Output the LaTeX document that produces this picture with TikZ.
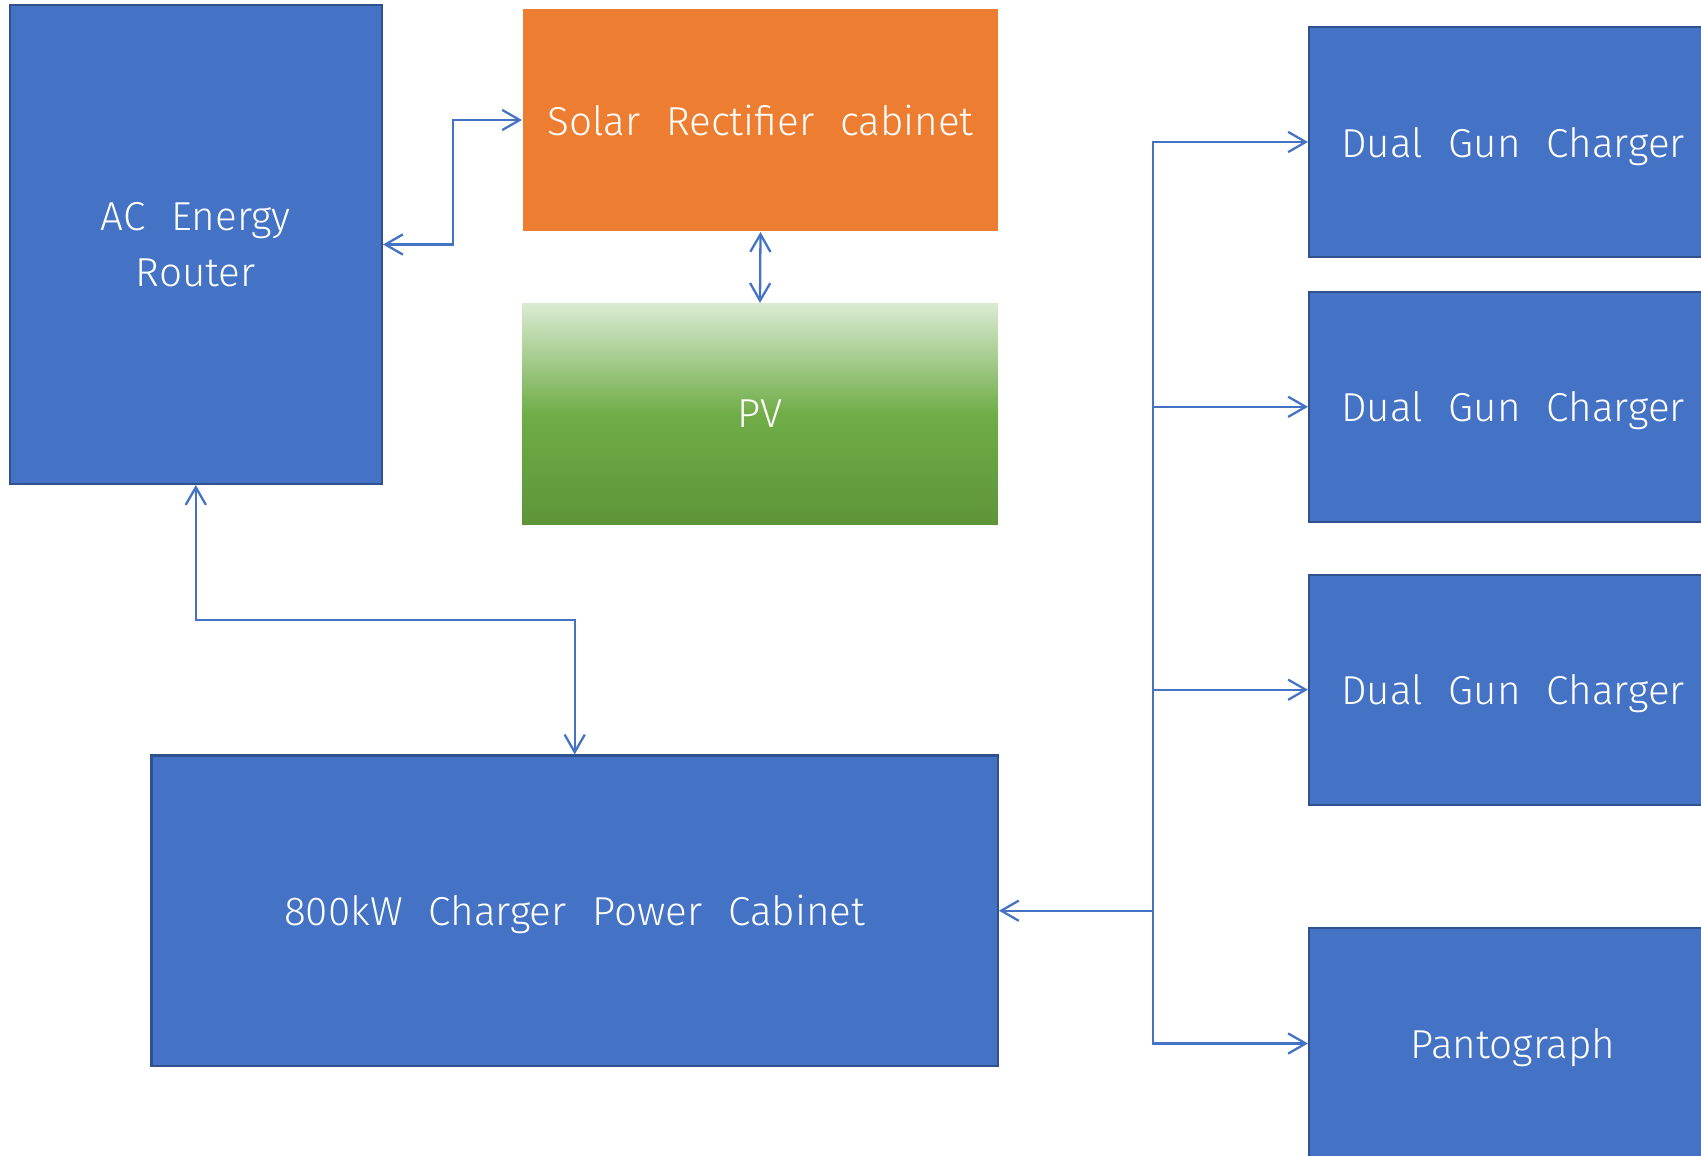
\documentclass[tikz,border=0pt]{standalone}
\usepackage{fontspec}
\setmainfont{Fira Sans Light}[WordSpace=2.3]
\usetikzlibrary{arrows.meta}
\definecolor{boxblue}{HTML}{4472C4}
\definecolor{boxedge}{HTML}{2F528F}
\definecolor{solarorange}{HTML}{ED7D31}
\definecolor{pvtop}{HTML}{DAEBD3}
\definecolor{pvmid}{HTML}{70AD47}
\definecolor{pvbot}{HTML}{5E9438}
\tikzset{
  blk/.style={rectangle, draw=boxedge, line width=1.2pt, fill=boxblue, text=white,
    font=\fontsize{23}{32}\selectfont, align=center, inner sep=0pt},
  oneline/.style={text depth=0pt},
  conn/.style={draw=boxblue, line width=1.3pt,
    arrows={-Straight Barb[length=10pt,width=11.5pt,line width=1.3pt]}},
  biconn/.style={draw=boxblue, line width=1.3pt,
    arrows={Straight Barb[length=10pt,width=11.5pt,line width=1.3pt]-Straight Barb[length=10pt,width=11.5pt,line width=1.3pt]}},
}
\begin{document}
\begin{tikzpicture}[x=0.02cm,y=-0.02cm]
\useasboundingbox (0,0) rectangle (1701,1156);
\begin{scope}
\clip (0,0) rectangle (1701,1156);
\node[blk, minimum width=7.448cm, minimum height=9.58cm] (ac) at (195.8,244.5) {AC Energy\\Router};
\node[blk, oneline, draw=none, fill=solarorange, minimum width=9.5cm, minimum height=4.44cm] (solar) at (760.5,120) {Solar Rectifier cabinet};
\node[rectangle, inner sep=0pt, minimum width=9.52cm, minimum height=4.43cm, text=white,
  font=\fontsize{23}{32}\selectfont, top color=pvtop, bottom color=pvbot, middle color=pvmid] (pv) at (760,414) {PV};
\node[blk, oneline, minimum width=16.93cm, minimum height=6.21cm] (cab) at (574.7,910.7) {800kW Charger Power Cabinet};
\node[blk, oneline, minimum width=8.16cm, minimum height=4.6cm] (d1) at (1513,142) {Dual Gun Charger};
\node[blk, oneline, minimum width=8.16cm, minimum height=4.6cm] (d2) at (1513,406.8) {Dual Gun Charger};
\node[blk, oneline, minimum width=8.16cm, minimum height=4.6cm] (d3) at (1513,689.7) {Dual Gun Charger};
\node[blk, oneline, minimum width=8.16cm, minimum height=4.62cm] (pan) at (1513,1043.5) {Pantograph};
\end{scope}
\coordinate (j) at (1153,910.7);
\draw[biconn] (ac.east) -- ++(70,0) |- (solar.west);
\draw[biconn] (solar.south) -- (pv.north);
\draw[biconn] (ac.south) -- ++(0,135) -| (cab.north);
\draw[conn] (j) -- (cab.east);
\draw[conn] (j) |- (d1.west);
\draw[conn] (j) |- (d2.west);
\draw[conn] (j) |- (d3.west);
\draw[conn] (j) |- (pan.west);
\end{tikzpicture}
\end{document}
